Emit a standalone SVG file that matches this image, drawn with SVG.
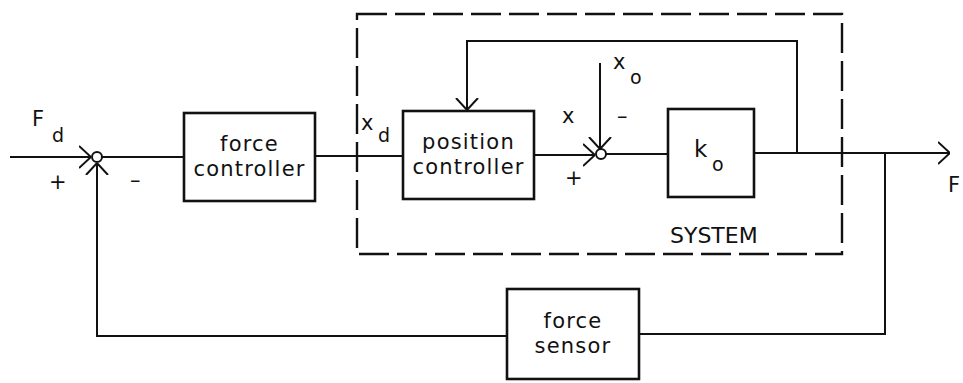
<svg xmlns="http://www.w3.org/2000/svg" width="963" height="383" viewBox="0 0 963 383">
<style>
.box{fill:#fff;stroke:#111;stroke-width:2.6}
.ln{fill:none;stroke:#111;stroke-width:2}
.sum{fill:#fff;stroke:#111;stroke-width:2}
.dash{fill:none;stroke:#111;stroke-width:2.4;stroke-dasharray:30 8}
text{font-family:"DejaVu Sans","Liberation Sans",sans-serif;fill:#111}
.lbl{font-size:21px;letter-spacing:1.2px;text-anchor:middle}
.sym{font-size:21px}
.sub{font-size:19px}
</style>
<defs>
<marker id="arr" markerUnits="userSpaceOnUse" viewBox="0 0 12 24" refX="12" refY="12" markerWidth="12" markerHeight="24" orient="auto">
<path d="M0,1 L12,12 L0,23" fill="none" stroke="#111" stroke-width="2"/>
</marker>
</defs>
<g id="system-boundary">
<rect class="dash" x="357" y="14" width="485" height="240"/>
<text x="670" y="243" style="font-size:22px">SYSTEM</text>
</g>
<g id="connectors">
<path class="ln" d="M10,157 H91" marker-end="url(#arr)"/>
<path class="ln" d="M102,157 H184"/>
<path class="ln" d="M315,156 H403"/>
<path class="ln" d="M534,155 H595" marker-end="url(#arr)"/>
<path class="ln" d="M600,63 V149" marker-end="url(#arr)"/>
<path class="ln" d="M606,154 H668"/>
<path class="ln" d="M754,153 H950" marker-end="url(#arr)"/>
<path class="ln" d="M797,153 V41 H467 V110" marker-end="url(#arr)"/>
<path class="ln" d="M885,153 V334 H639"/>
<path class="ln" d="M507,336 H97 V163" marker-end="url(#arr)"/>
</g>
<g id="sum1">
<circle class="sum" cx="97" cy="157" r="5"/>
</g>
<g id="sum2">
<circle class="sum" cx="601" cy="154" r="5"/>
</g>
<g id="force-controller">
<rect class="box" x="184" y="113" width="131" height="88"/>
<text class="lbl" x="249.5" y="151">force<tspan x="249.5" y="176">controller</tspan></text>
</g>
<g id="position-controller">
<rect class="box" x="403" y="111" width="131" height="88"/>
<text class="lbl" x="468.5" y="149">position<tspan x="468.5" y="174">controller</tspan></text>
</g>
<g id="plant">
<rect class="box" x="668" y="109" width="86" height="88"/>
<text class="sym" x="694" y="157" style="font-size:23px">k</text>
<text class="sub" x="712" y="171">o</text>
</g>
<g id="force-sensor">
<rect class="box" x="507" y="289" width="132" height="90"/>
<text class="lbl" x="573" y="328">force<tspan x="573" y="353">sensor</tspan></text>
</g>
<g id="labels">
<text class="sym" x="32" y="126">F</text>
<text class="sub" x="52" y="142">d</text>
<text class="sym" x="49" y="189">+</text>
<text class="sym" x="130" y="187">–</text>
<text class="sym" x="361" y="130">x</text>
<text class="sub" x="378" y="142">d</text>
<text class="sym" x="562" y="123">x</text>
<text class="sym" x="613" y="69">x</text>
<text class="sub" x="630" y="84">o</text>
<text class="sym" x="617" y="123">–</text>
<text class="sym" x="565" y="185">+</text>
<text class="sym" x="948" y="192">F</text>
</g>
</svg>
